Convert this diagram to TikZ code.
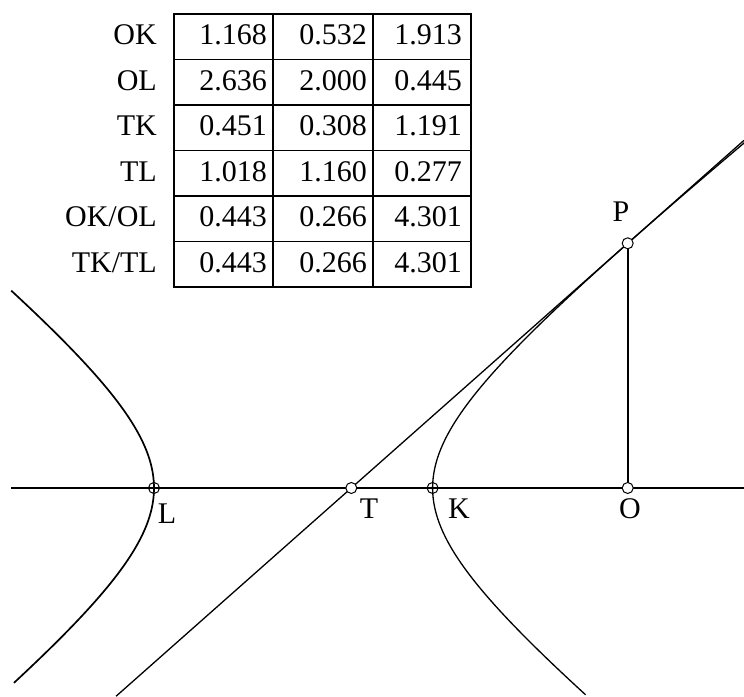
\documentclass[tikz,border=0pt]{standalone}
\usepackage{fontspec}
\setmainfont{Liberation Serif}
\usetikzlibrary{calc}
\newcommand\tabrow[5]{%
  \node[num] (r#1) at (157,{651-45.5*#1}) {#2};
  \node[num] (a#1) at (267,{651-45.5*#1}) {#3};
  \node[num] (b#1) at (367,{651-45.5*#1}) {#4};
  \node[num] (c#1) at (462,{651-45.5*#1}) {#5};}
\begin{document}
\begin{tikzpicture}[x=1pt,y=1pt,
  lbl/.style={font=\fontsize{30}{36}\selectfont, inner sep=0pt, anchor=base},
  num/.style={font=\fontsize{30}{36}\selectfont, inner sep=0pt, anchor=base east},
  gridline/.style={line width=1.6pt},
  curve/.style={line width=1.3pt},
  ptmark/.style={circle, draw, line width=1pt, minimum size=11pt, inner sep=0pt},
]
\useasboundingbox (0,0) rectangle (744,696);
% points
\coordinate (C) at (293.3,208);
\coordinate (L) at (154,208);
\coordinate (K) at (432.6,208);
\coordinate (T) at (351.3,208);
\coordinate (O) at (627.7,208);
\coordinate (P) at (627.7,452.7);
\coordinate (AxW) at (11,208);
\coordinate (AxE) at (744,208);
% axis and ordinate
\draw[line width=1.8pt] (AxW) -- (AxE);
\draw[line width=1.8pt] (P) -- (O);
% tangent line
\draw[curve] ($(T)!-0.851!(P)$) -- ($(T)!1.4208!(P)$);
% hyperbola branches
\draw[curve, line width=1.7pt] plot[domain=-1.32:1.332, samples=120, variable=\t]
  ({293.3-139.3*cosh(\t)},{208+112.1*sinh(\t)});
\draw[curve] plot[domain=-1.372:1.846, samples=150, variable=\t]
  ({293.3+139.3*cosh(\t)},{208+112.1*sinh(\t)});
% markers
\node[ptmark] (mL) at (L) {};
\node[ptmark] (mK) at (K) {};
\node[ptmark, fill=white] (mT) at (T) {};
\node[ptmark, fill=white] (mO) at (O) {};
\node[ptmark, fill=white] (mP) at (P) {};
% labels
\node[lbl] (tL) at (167,172) {L};
\node[lbl] (tT) at (369,177) {T};
\node[lbl] (tK) at (459,177) {K};
\node[lbl] (tO) at (630,177) {O};
\node[lbl] (tP) at (621,474) {P};
% table
\draw[gridline] (174,682) rectangle (471,409);
\foreach \yy in {636.5,591,545.5,500,454.5} \draw[gridline] (174,\yy) -- (471,\yy);
\draw[gridline] (273,682) -- (273,409);
\draw[gridline] (373,682) -- (373,409);
\tabrow{0}{OK}{1.168}{0.532}{1.913}
\tabrow{1}{OL}{2.636}{2.000}{0.445}
\tabrow{2}{TK}{0.451}{0.308}{1.191}
\tabrow{3}{TL}{1.018}{1.160}{0.277}
\tabrow{4}{OK/OL}{0.443}{0.266}{4.301}
\tabrow{5}{TK/TL}{0.443}{0.266}{4.301}
\end{tikzpicture}
\end{document}
